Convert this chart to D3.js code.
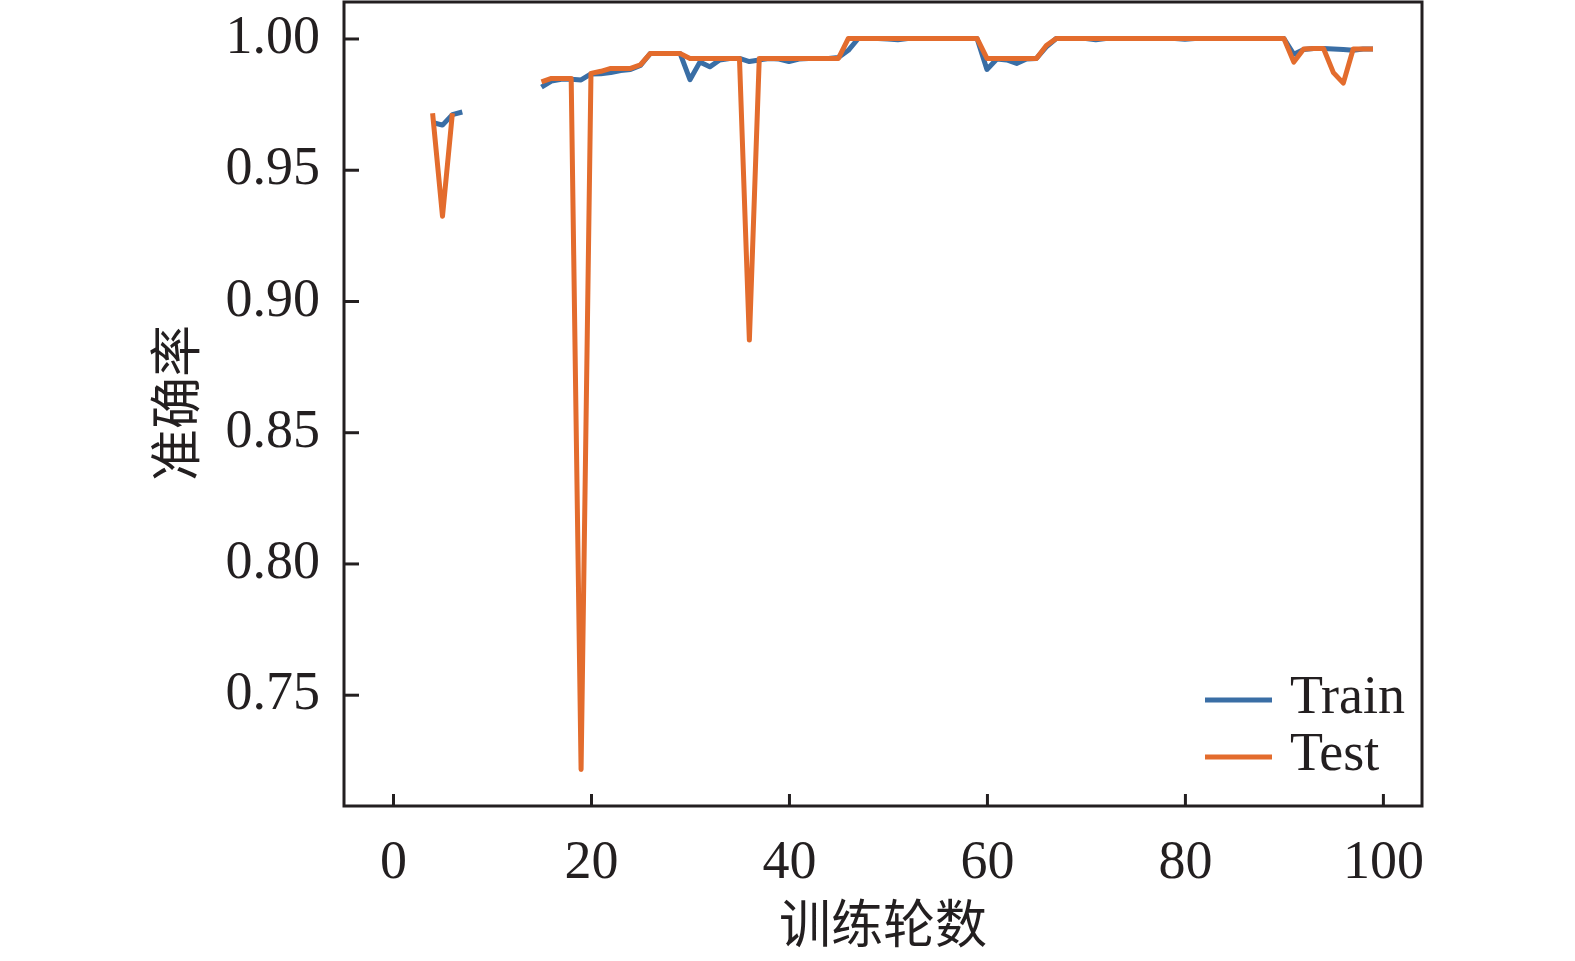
<!DOCTYPE html>
<html>
<head>
<meta charset="utf-8">
<script src="https://cdn.jsdelivr.net/npm/d3@7"></script>
<style>
  html, body { margin: 0; padding: 0; background: #fff; overflow: hidden; }
  svg { display: block; }
  text { fill: #231f20; }
</style>
</head>
<body>
<svg id="chart"></svg>
<script>
// Epochs 0..99, null where no value was plotted
const epochs = d3.range(0, 100);

const trainAcc = [
  null, null, null, null, 0.968, 0.967, 0.971, 0.972, null, null,
  null, null, null, null, null, 0.9815, 0.9838, 0.9845, 0.9845, 0.9842,
  0.9865, 0.9866, 0.987, 0.9878, 0.9882, 0.9897, 0.9943, 0.9943, 0.9943, 0.9943,
  0.9843, 0.991, 0.9892, 0.9918, 0.9924, 0.9924, 0.9912, 0.9918, 0.9924, 0.9922,
  0.9912, 0.9922, 0.9924, 0.9924, 0.9924, 0.9928, 0.9955, 1.0, 1.0, 1.0,
  0.9998, 0.9995, 1.0, 1.0, 1.0, 1.0, 1.0, 1.0, 1.0, 1.0,
  0.9882, 0.9922, 0.9918, 0.9905, 0.9922, 0.9924, 0.9968, 1.0, 1.0, 1.0,
  1.0, 0.9995, 1.0, 1.0, 1.0, 1.0, 1.0, 1.0, 1.0, 1.0,
  0.9997, 1.0, 1.0, 1.0, 1.0, 1.0, 1.0, 1.0, 1.0, 1.0,
  1.0, 0.994, 0.9958, 0.9962, 0.9962, 0.996, 0.9958, 0.9955, 0.996, 0.996
];

const testAcc = [
  null, null, null, null, 0.9715, 0.9323, 0.9715, null, null, null,
  null, null, null, null, null, 0.9835, 0.9848, 0.9848, 0.9848, 0.7215,
  0.9867, 0.9875, 0.9886, 0.9886, 0.9886, 0.990, 0.9943, 0.9943, 0.9943, 0.9943,
  0.9924, 0.9924, 0.9924, 0.9924, 0.9924, 0.9924, 0.8851, 0.9924, 0.9924, 0.9924,
  0.9924, 0.9924, 0.9924, 0.9924, 0.9924, 0.9924, 1.0, 1.0, 1.0, 1.0,
  1.0, 1.0, 1.0, 1.0, 1.0, 1.0, 1.0, 1.0, 1.0, 1.0,
  0.9924, 0.9924, 0.9924, 0.9924, 0.9924, 0.9924, 0.9973, 1.0, 1.0, 1.0,
  1.0, 1.0, 1.0, 1.0, 1.0, 1.0, 1.0, 1.0, 1.0, 1.0,
  1.0, 1.0, 1.0, 1.0, 1.0, 1.0, 1.0, 1.0, 1.0, 1.0,
  1.0, 0.991, 0.996, 0.9962, 0.9962, 0.987, 0.983, 0.996, 0.996, 0.996
];

const seriesNames = ["Train", "Test"];
const seriesColors = ["#3a6ea5", "#e36c2d"];
const xTicks = [0, 20, 40, 60, 80, 100];
const yTicks = [0.75, 0.80, 0.85, 0.90, 0.95, 1.00];
const xTitle = "训练轮数";
const yTitle = "准确率";

const width = 1575;
const height = 961;
const plot = { left: 344, right: 1422, top: 2, bottom: 806 };
const serif = "'Liberation Serif', 'Times New Roman', serif";
const cjk = "'Noto Sans CJK SC', sans-serif";

const svg = d3.select("#chart")
  .attr("width", width)
  .attr("height", height);

// Scales, padded the way matplotlib pads its data limits
const x = d3.scaleLinear().domain([-4.95, 103.95]).range([plot.left, plot.right]);
const y = d3.scaleLinear().domain([0.7076, 1.0139]).range([plot.bottom, plot.top]);

svg.append("defs").append("clipPath").attr("id", "plot-clip")
  .append("rect")
  .attr("x", plot.left).attr("y", plot.top)
  .attr("width", plot.right - plot.left)
  .attr("height", plot.bottom - plot.top);

// Lines
const lineGen = d3.line()
  .defined(d => d[1] !== null)
  .x(d => x(d[0]))
  .y(d => y(d[1]));

[trainAcc, testAcc].forEach((values, i) => {
  svg.append("path")
    .datum(epochs.map(e => [e, values[e]]))
    .attr("clip-path", "url(#plot-clip)")
    .attr("fill", "none")
    .attr("stroke", seriesColors[i])
    .attr("stroke-width", 5)
    .attr("stroke-linejoin", "round")
    .attr("d", lineGen);
});

// Axes with inward ticks
const xAxis = svg.append("g")
  .attr("transform", `translate(0,${plot.bottom})`)
  .call(d3.axisBottom(x).tickValues(xTicks).tickFormat(d3.format("d"))
    .tickSize(-12).tickPadding(34));

const yAxis = svg.append("g")
  .attr("transform", `translate(${plot.left},0)`)
  .call(d3.axisLeft(y).tickValues(yTicks).tickFormat(d3.format(".2f"))
    .tickSize(-15).tickPadding(24));

[xAxis, yAxis].forEach(g => {
  g.select(".domain").remove();
  g.selectAll(".tick line").attr("stroke", "#231f20").attr("stroke-width", 3);
  g.selectAll(".tick text")
    .attr("font-family", serif)
    .attr("font-size", 54)
    .attr("fill", "#231f20");
});
yAxis.selectAll(".tick text").attr("dy", "0.26em");

// Frame
svg.append("rect")
  .attr("x", plot.left).attr("y", plot.top)
  .attr("width", plot.right - plot.left)
  .attr("height", plot.bottom - plot.top)
  .attr("fill", "none")
  .attr("stroke", "#231f20")
  .attr("stroke-width", 3);

// Axis titles
svg.append("text")
  .attr("x", 883).attr("y", 920)
  .attr("text-anchor", "middle")
  .attr("dominant-baseline", "central")
  .attr("font-family", cjk)
  .attr("font-size", 52)
  .text(xTitle);

svg.append("text")
  .attr("transform", "translate(172,403) rotate(-90)")
  .attr("text-anchor", "middle")
  .attr("dominant-baseline", "central")
  .attr("font-family", cjk)
  .attr("font-size", 52)
  .text(yTitle);

// Legend
const legend = svg.append("g").attr("transform", "translate(1205,700)");
seriesNames.forEach((name, i) => {
  const row = legend.append("g").attr("transform", `translate(0,${i * 57})`);
  row.append("line")
    .attr("x1", 0).attr("x2", 67)
    .attr("stroke", seriesColors[i])
    .attr("stroke-width", 5);
  row.append("text")
    .attr("x", 85).attr("y", 13)
    .attr("font-family", serif)
    .attr("font-size", 54)
    .text(name);
});
</script>
</body>
</html>
